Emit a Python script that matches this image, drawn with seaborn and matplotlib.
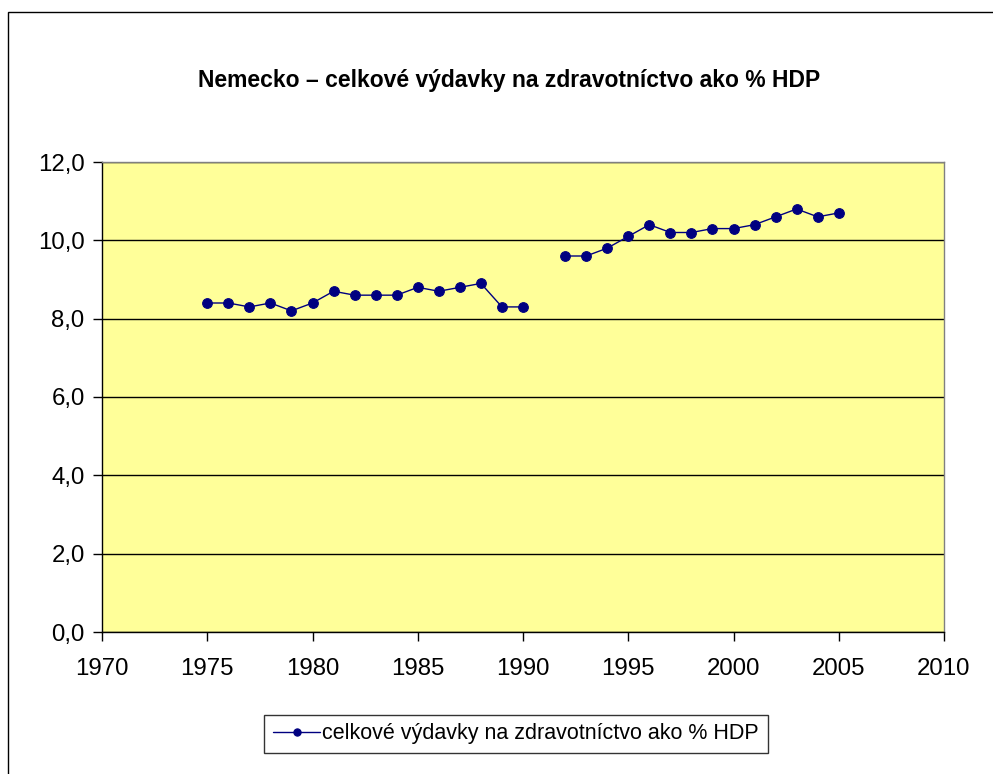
import numpy as np
import pandas as pd
import matplotlib
matplotlib.use('Agg')
import matplotlib.pyplot as plt
import seaborn as sns
from matplotlib.ticker import FuncFormatter
from matplotlib.patches import Rectangle

# Nemecko - celkove vydavky na zdravotnictvo ako % HDP (1991 chyba)
years = list(range(1975, 2006))
values = [8.4, 8.4, 8.3, 8.4, 8.2, 8.4, 8.7, 8.6, 8.6, 8.6,
          8.8, 8.7, 8.8, 8.9, 8.3, 8.3, np.nan, 9.6, 9.6, 9.8,
          10.1, 10.4, 10.2, 10.2, 10.3, 10.3, 10.4, 10.6, 10.8, 10.6,
          10.7]
title = 'Nemecko – celkové výdavky na zdravotníctvo ako % HDP'
series_label = 'celkové výdavky na zdravotníctvo ako % HDP'

df = pd.DataFrame({'rok': years, 'hodnota': values})
# break the line at the missing year
df['seg'] = df['hodnota'].isna().cumsum()
df = df.dropna()

sns.set_style('white')
plt.rcParams['font.family'] = ['Liberation Sans', 'DejaVu Sans']
plt.rcParams['text.color'] = 'black'
plt.rcParams['xtick.color'] = 'black'
plt.rcParams['ytick.color'] = 'black'

fig = plt.figure(figsize=(9.93, 7.74), dpi=100)
ax = fig.add_axes([102 / 993, 1 - 632 / 774, 842 / 993, 470 / 774])
ax.set_facecolor('#FFFF99')

sns.lineplot(data=df, x='rok', y='hodnota', units='seg', estimator=None,
             color='#000080', lw=1, marker='o', markersize=7,
             markeredgecolor='#000080', ax=ax)

ax.set_xlim(1970, 2010)
ax.set_ylim(0, 12)
ax.set_xticks(range(1970, 2011, 5))
ax.set_yticks(range(0, 13, 2))
ax.yaxis.set_major_formatter(FuncFormatter(lambda v, p: f'{v:.1f}'.replace('.', ',')))
ax.grid(axis='y', color='black', lw=1)
ax.set_axisbelow(True)
ax.set_xlabel('')
ax.set_ylabel('')
ax.tick_params(axis='both', which='major', length=6.5, width=1, color='black',
               labelsize=17.3, direction='out', bottom=True, left=True)
ax.tick_params(axis='x', pad=12)
ax.tick_params(axis='y', pad=6)
for side in ['left', 'bottom']:
    ax.spines[side].set_color('black')
    ax.spines[side].set_linewidth(1)
for side in ['top', 'right']:
    ax.spines[side].set_color('#808080')
    ax.spines[side].set_linewidth(1)

fig.text(509 / 993, 1 - 80 / 774, title, ha='center', va='center',
         fontsize=16.5, fontweight='bold')

handle = ax.get_lines()[0]
leg = ax.legend([handle], [series_label], loc='center', fontsize=15.5,
                bbox_to_anchor=(516 / 993, 1 - 734 / 774), bbox_transform=fig.transFigure,
                frameon=True, fancybox=False, edgecolor='black', handlelength=2.2,
                handletextpad=0.1, borderpad=0.4, borderaxespad=0, markerscale=0.75)
leg.get_frame().set_linewidth(1)

# outer chart border
fig.patches.append(Rectangle((8 / 993, -0.1), 1.2, 1 - 12 / 774 + 0.1,
                             transform=fig.transFigure, fill=False,
                             edgecolor='black', lw=1))

fig.savefig('out.png', dpi=100)
